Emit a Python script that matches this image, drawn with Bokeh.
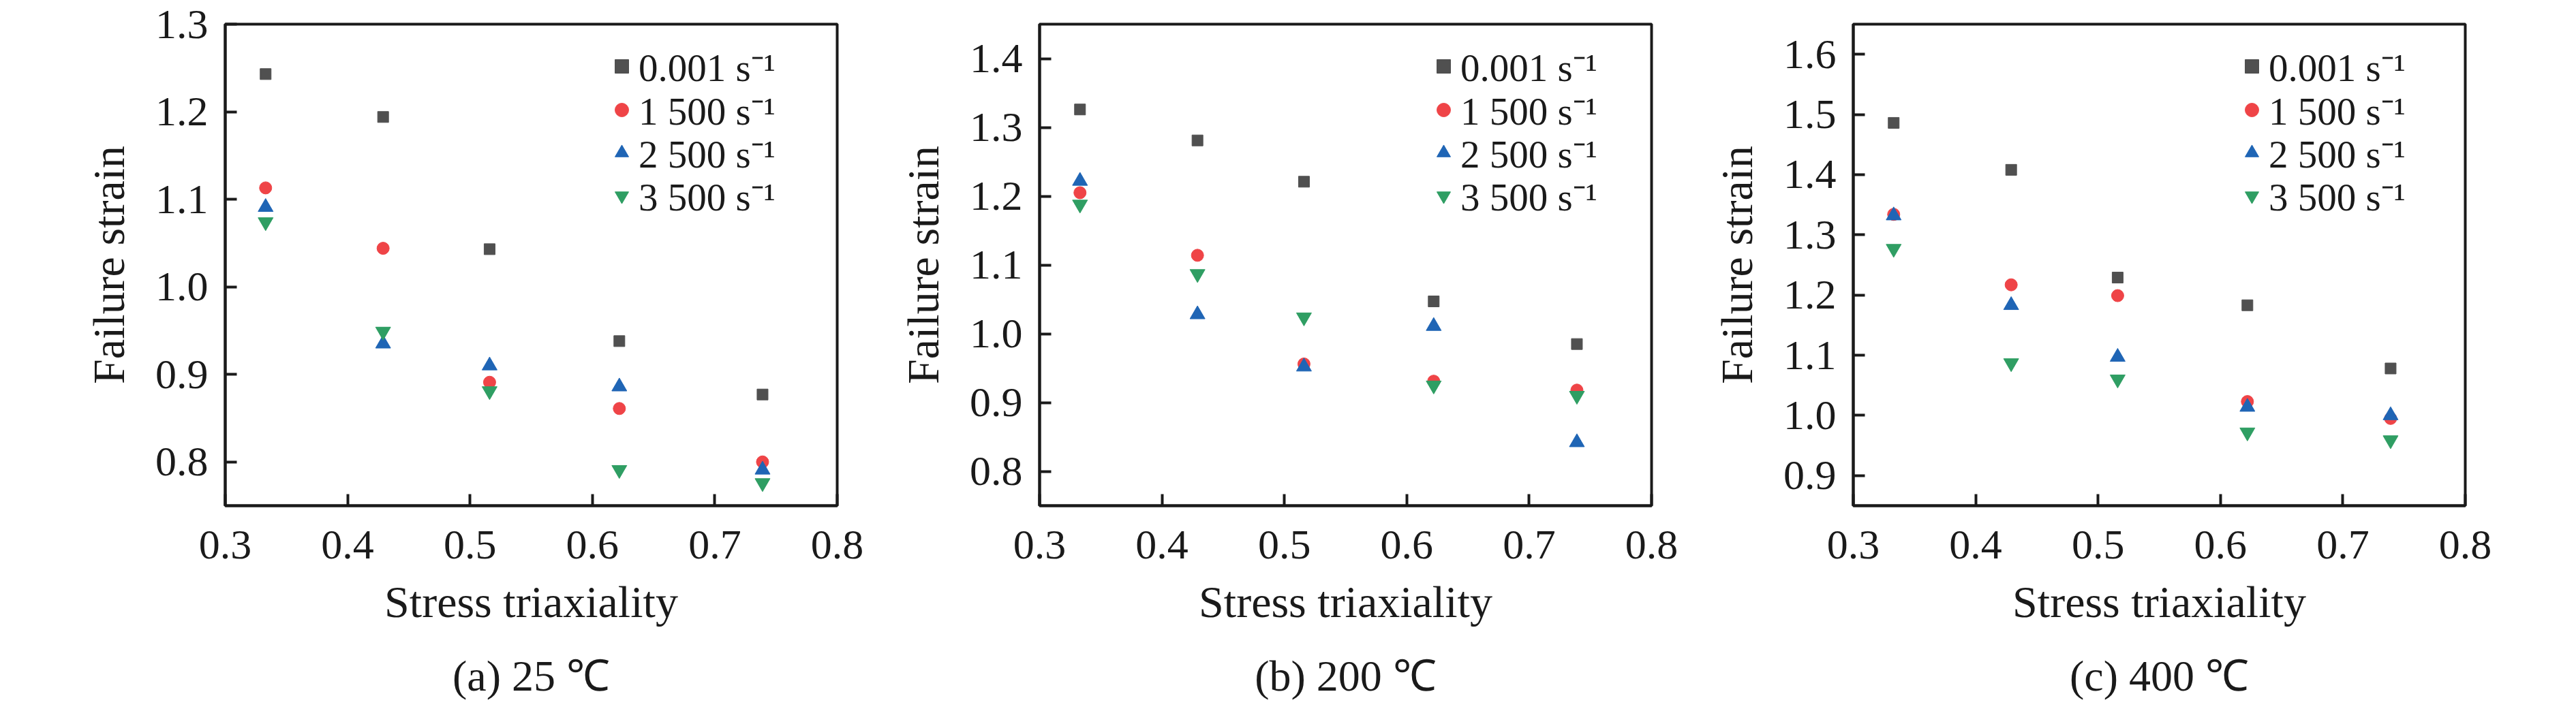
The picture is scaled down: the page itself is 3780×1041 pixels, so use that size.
from bokeh.plotting import figure
from bokeh.layouts import row
from bokeh.models import (FixedTicker, PrintfTickFormatter, Legend, LegendItem, Title)
from bokeh.embed import file_html
from bokeh.resources import INLINE

# ---------------- data ----------------
triaxiality = [0.333, 0.429, 0.516, 0.622, 0.739]
series_labels = ["0.001 s\u207b\u00b9", "1 500 s\u207b\u00b9", "2 500 s\u207b\u00b9", "3 500 s\u207b\u00b9"]

strain_25C = {
    "0.001": [1.243, 1.194, 1.043, 0.938, 0.877],
    "1500":  [1.113, 1.044, 0.891, 0.861, 0.800],
    "2500":  [1.091, 0.935, 0.910, 0.886, 0.791],
    "3500":  [1.074, 0.949, 0.881, 0.791, 0.776],
}
strain_200C = {
    "0.001": [1.326, 1.281, 1.221, 1.047, 0.985],
    "1500":  [1.205, 1.114, 0.956, 0.931, 0.918],
    "2500":  [1.222, 1.028, 0.952, 1.011, 0.842],
    "3500":  [1.188, 1.087, 1.024, 0.925, 0.910],
}
strain_400C = {
    "0.001": [1.486, 1.408, 1.229, 1.183, 1.078],
    "1500":  [1.334, 1.217, 1.199, 1.023, 0.995],
    "2500":  [1.332, 1.183, 1.097, 1.014, 1.000],
    "3500":  [1.277, 1.087, 1.060, 0.972, 0.959],
}
captions = ["(a) 25 \u2103", "(b) 200 \u2103", "(c) 400 \u2103"]
x_ticks = [0.3, 0.4, 0.5, 0.6, 0.7, 0.8]
y_ranges = [(0.75, 1.30), (0.75, 1.45), (0.85, 1.65)]
y_ticks = [
    [0.8, 0.9, 1.0, 1.1, 1.2, 1.3],
    [0.8, 0.9, 1.0, 1.1, 1.2, 1.3, 1.4],
    [0.9, 1.0, 1.1, 1.2, 1.3, 1.4, 1.5, 1.6],
]
datasets = [strain_25C, strain_200C, strain_400C]
keys = ["0.001", "1500", "2500", "3500"]

# ---------------- styles ----------------
FONT = "Liberation Serif"
INK = "#1a1a1a"
colors = ["#505050", "#ef4447", "#1f65b5", "#2f9e63"]
markers = ["square", "circle", "triangle", "inverted_triangle"]
sizes = [16, 18, 22, 22]
borders_left = [330, 252, 251]
legend_x = [557, 568, 560]
FRAME_H = 707
ITEM_H = 100
row_centers = [62, 126, 189, 252]   # offsets of legend rows below frame top

figs = []
for i in range(3):
    p = figure(frame_width=898, frame_height=FRAME_H,
               x_range=(0.3, 0.8), y_range=y_ranges[i],
               output_backend="svg", toolbar_location=None, title=None,
               min_border_left=borders_left[i], min_border_right=45,
               min_border_top=35, min_border_bottom=298)
    p.background_fill_color = "white"
    p.border_fill_color = "white"
    p.grid.visible = False
    p.outline_line_color = INK
    p.outline_line_width = 4

    renderers = []
    for k, key in enumerate(keys):
        r = p.scatter(triaxiality, datasets[i][key], marker=markers[k], size=sizes[k],
                      fill_color=colors[k], line_color=colors[k], line_width=1)
        renderers.append(r)

    for ax in (p.xaxis[0], p.yaxis[0]):
        ax.axis_line_width = 4
        ax.axis_line_color = INK
        ax.major_tick_line_width = 4
        ax.major_tick_line_color = INK
        ax.major_tick_in = 17
        ax.major_tick_out = 0
        ax.minor_tick_line_color = None
        ax.major_label_text_font = FONT
        ax.major_label_text_font_size = "62px"
        ax.major_label_text_color = INK
        ax.axis_label_text_font = FONT
        ax.axis_label_text_font_size = "66px"
        ax.axis_label_text_font_style = "normal"
        ax.axis_label_text_color = INK
        ax.formatter = PrintfTickFormatter(format="%.1f")

    p.xaxis[0].ticker = FixedTicker(ticks=x_ticks)
    p.yaxis[0].ticker = FixedTicker(ticks=y_ticks[i])
    p.xaxis[0].axis_label = "Stress triaxiality"
    p.yaxis[0].axis_label = "Failure strain"
    p.xaxis[0].major_label_standoff = 37
    p.xaxis[0].axis_label_standoff = 24
    p.yaxis[0].major_label_standoff = 25
    p.yaxis[0].axis_label_standoff = 29

    # one single-item legend per row so the row pitch is exact
    for k in range(4):
        y_bottom = FRAME_H - (row_centers[k] - ITEM_H / 2) - ITEM_H
        legend = Legend(items=[LegendItem(label=series_labels[k], renderers=[renderers[k]])],
                        location=(legend_x[i], y_bottom),
                        background_fill_alpha=0, border_line_color=None,
                        padding=0, margin=0, spacing=0,
                        glyph_width=50, glyph_height=ITEM_H, label_height=ITEM_H,
                        label_standoff=0,
                        label_text_font=FONT, label_text_font_size="57px",
                        label_text_color=INK)
        p.add_layout(legend, "center")

    cap = Title(text=captions[i], align="center", text_font=FONT,
                text_font_size="64px", text_font_style="normal",
                text_color=INK, standoff=64)
    p.add_layout(cap, "below")
    figs.append(p)

layout = row(*figs)
open("out.html", "w").write(file_html(layout, INLINE))
